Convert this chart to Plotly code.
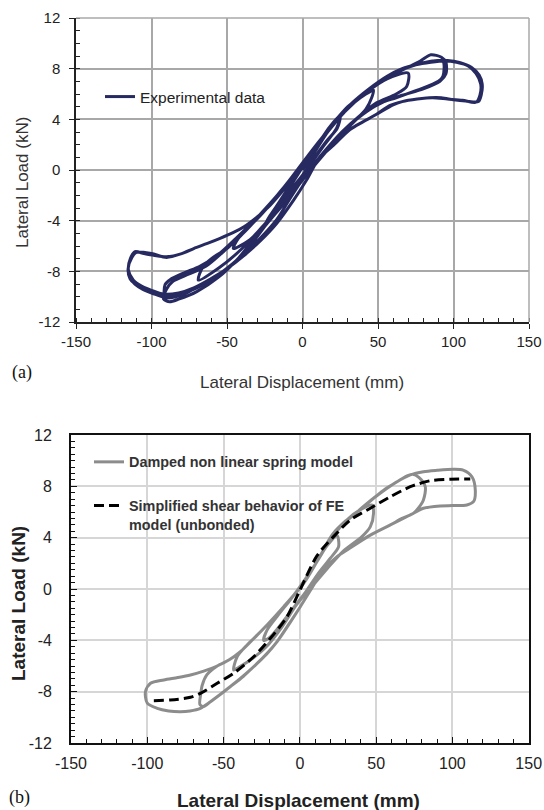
import plotly.graph_objects as go

# ---------------- data ----------------
x_ticks = [-150, -100, -50, 0, 50, 100, 150]
y_ticks = [-12, -8, -4, 0, 4, 8, 12]
x_tick_text = ["-150", "-100", "-50", "0", "50", "100", "150"]
y_tick_text = ["-12", "-8", "-4", "0", "4", "8", "12"]

# (a) experimental hysteresis (displacement mm, load kN), in loading order
exp_disp = [0, 8, 16, 22, 25,
            23, 16, 8, 0, -8, -16, -22, -24.5,
            -21.5, -14, -6, 2, 10, 18, 25,
            22.6, 14, 5, -5, -14, -21, -24,
            -21.5, -12, 0, 12, 24, 34, 42, 47,
            45.8, 42, 34, 24, 12, 0, -12, -24, -36, -45.8,
            -42.5, -36, -26, -14, 0, 14, 28, 42, 56, 70,
            69, 62, 49, 38, 26, 14, 2, -12, -26, -40, -55, -69,
            -65.7, -58, -50, -40, -28, -16, -4, 8, 20, 32, 45, 58, 70, 82, 93,
            93, 90, 76, 62, 52, 40, 28, 14, 2, -12, -24, -39, -55, -70, -82, -91,
            -91, -87.7, -78, -68, -56, -44, -32, -20, -8, 4, 16, 28, 42, 56, 68, 78, 85, 92, 95,
            95, 91, 80, 66, 54, 42, 30, 16, 2, -14, -28, -42, -56, -70, -82, -88, -92,
            -90, -86, -75, -64, -52, -40, -28, -16, -4, 8, 20, 32, 44, 56, 66, 76, 86, 96, 104, 112, 117, 119, 118.5, 116.5,
            108, 100, 92, 84, 76, 66, 58, 49, 40, 31.5, 20, 11.6, 2, -8, -17, -28, -39, -50, -61, -72, -82, -92, -100, -106, -112, -115.3, -114, -110.9,
            -105, -98, -90, -80, -72, -63, -54.6, -46, -39, -30, -21.5, -12, -3.8, 6, 14, 20.4, 30, 42.5, 54, 64.6, 75, 85, 94, 102, 110, 115, 118, 117.5, 115,
            106, 96, 86, 76, 66, 60, 49, 40, 31.5, 20, 11.6, 2.8, -6, -17, -28, -39.2, -50, -61.3, -69, -76.7, -84, -90, -98, -105.4, -111, -114.2, -115.5, -113, -110,
            -100, -90, -80, -72]
exp_load = [0, 1.4, 2.9, 3.8, 4.2,
            3.3, 2.3, 1.0, -0.4, -1.6, -3.0, -3.9, -4.2,
            -3.6, -2.3, -0.9, 0.6, 2.0, 3.4, 4.3,
            3.3, 1.9, 0.4, -1.3, -2.8, -3.8, -4.3,
            -3.66, -1.9, 0.3, 2.4, 4.2, 5.3, 6.0, 6.3,
            5.7, 4.8, 3.8, 2.6, 1.0, -0.6, -2.4, -4.2, -5.6, -6.2,
            -5.4, -4.6, -3.3, -1.6, 0.4, 2.6, 4.6, 6.1, 7.2, 7.65,
            6.6, 6.0, 5.3, 4.3, 3.0, 1.4, -0.4, -2.5, -4.4, -6.2, -7.7, -8.7,
            -7.6, -6.8, -6.2, -5.0, -3.6, -2.0, -0.2, 1.6, 3.5, 5.1, 6.4, 7.5, 8.1, 8.5, 8.6,
            7.4, 7.0, 6.3, 5.7, 5.3, 4.4, 3.2, 1.3, -0.5, -2.6, -4.3, -6.6, -8.2, -9.3, -9.8, -10.0,
            -9.05, -8.66, -8.1, -7.6, -6.7, -5.4, -4.0, -2.5, -0.7, 1.2, 3.0, 4.7, 6.2, 7.3, 8.0, 8.6, 9.1, 8.9, 8.5,
            7.6, 7.0, 6.4, 5.9, 5.4, 4.6, 3.4, 1.5, -0.5, -2.9, -4.8, -6.9, -8.5, -9.6, -10.2, -10.4, -10.2,
            -9.4, -8.8, -8.2, -7.6, -6.4, -5.0, -3.5, -1.9, -0.1, 1.7, 3.6, 5.2, 6.4, 7.4, 8.0, 8.35, 8.6, 8.65, 8.5, 8.1, 7.5, 6.8, 6.0, 5.4,
            5.45, 5.55, 5.7, 5.7, 5.6, 5.4, 5.1, 4.4, 3.8, 3.2, 1.9, 1.0, -0.4, -2.2, -3.9, -5.4, -6.7, -7.8, -8.6, -9.3, -9.7, -9.8, -9.5, -9.2, -8.7, -7.9, -7.0, -6.45,
            -6.6, -6.75, -6.85, -6.6, -6.2, -5.8, -5.4, -4.95, -4.5, -3.7, -2.8, -1.5, -0.3, 1.3, 2.7, 3.7, 5.0, 6.2, 7.2, 7.9, 8.3, 8.5, 8.6, 8.5, 8.2, 7.6, 6.8, 5.9, 5.35,
            5.5, 5.6, 5.7, 5.6, 5.4, 5.15, 4.4, 3.8, 3.2, 2.0, 1.07, -0.77, -2.4, -4.2, -5.6, -6.8, -7.8, -8.66, -9.2, -9.7, -10.0, -10.1, -9.8, -9.45, -9.0, -8.6, -7.8, -6.9, -6.5,
            -6.6, -6.9, -6.6, -6.2]

# (b) damped non linear spring model
spring_disp = [0, 10, 18, 24.4,
               25.4, 20, 12, 4, -5, -14, -20, -23.7,
               -21.5, -14, -6, 2, 10, 20, 30, 40, 47.3,
               48.3, 46.2, 40.7, 28, 18, 8, -2, -12, -22, -32, -40, -43.4,
               -41.1, -34.6, -28, -21.5, -10.6, 2.5, 12, 22, 30, 37.5, 48.3, 56, 63.7, 70, 74, 78,
               82.2, 81, 76.7, 74.5, 67, 59.3, 46.2, 38, 30.9, 24.4, 15.6, 8, 0.3, -7, -14.9, -22, -28, -37, -45.5, -52, -58.6, -63, -65.5,
               -65, -64, -61, -54.2, -46, -39, -28, -21.5, -10.6, 2.5, 12, 22, 37.5, 48.3, 63.7, 72.4, 81, 90, 100.7, 107, 112.8, 115, 113.8, 109.5,
               100, 92, 81, 74.5, 59.3, 46.2, 30.9, 24.4, 15.6, 8, 0.3, -14.9, -28, -45.5, -58.6, -65.2, -72, -78.3, -86, -93.5, -100, -101.2,
               -97.9, -89.2, -80, -71.7, -63, -54.2, -46, -39, -28, -21.5, -10.6, 0]
spring_load = [0.1, 1.9, 3.4, 4.15,
               3.3, 2.4, 1.2, -0.2, -1.6, -3.0, -3.8, -4.0,
               -3.2, -2.0, -0.8, 0.5, 1.9, 3.8, 5.3, 6.2, 6.55,
               5.9, 4.86, 4.08, 2.9, 1.6, 0.2, -1.2, -3.0, -4.5, -5.5, -6.1, -6.31,
               -5.28, -4.36, -3.59, -2.8, -1.38, 0.44, 2.3, 4.34, 5.3, 6.0, 7.07, 7.8, 8.36, 8.8, 8.95, 8.7,
               7.97, 6.94, 6.16, 5.9, 5.5, 4.99, 4.2, 3.6, 3.04, 2.52, 1.5, 0.1, -1.38, -2.7, -4.1, -5.1, -5.8, -6.8, -7.6, -8.2, -8.78, -9.15, -9.0,
               -8.2, -7.5, -6.7, -6.0, -5.5, -4.89, -3.59, -2.8, -1.38, 0.44, 2.3, 4.34, 6.0, 7.07, 8.36, 8.89, 9.14, 9.25, 9.33, 9.27, 8.75, 7.7, 6.8, 6.55,
               6.5, 6.47, 6.29, 5.9, 4.99, 4.2, 3.04, 2.52, 1.5, 0.1, -1.38, -4.1, -5.8, -7.6, -8.78, -9.3, -9.5, -9.56, -9.5, -9.3, -8.9, -8.0,
               -7.35, -7.09, -6.9, -6.7, -6.4, -6.0, -5.5, -4.89, -3.59, -2.8, -1.38, 0.1]

# (b) simplified shear behaviour of FE model (unbonded)
fe_disp = [-95.7, -85, -71.7, -65.2, -54.2, -43.4, -30.3, -19.3, -8.4, 0, 11.3, 22.1, 33.1, 46.2, 59.3, 72.4, 85.5, 98.6, 111.7]
fe_load = [-8.7, -8.65, -8.44, -8.13, -7.35, -6.57, -5.28, -3.84, -2.16, -0.1, 2.6, 4.08, 5.38, 6.29, 7.19, 7.97, 8.44, 8.55, 8.57]

# ---------------- figure ----------------
W, H = 544, 810
SANS = "Liberation Sans, Arial, sans-serif"
SERIF = "Liberation Serif, Times New Roman, serif"

def px(x):
    return x / W

def py(y):
    return 1 - y / H

fig = go.Figure()

fig.add_trace(go.Scatter(
    x=exp_disp, y=exp_load, mode="lines", name="Experimental data",
    line=dict(color="#262a60", width=3, shape="spline", smoothing=0.8),
    xaxis="x", yaxis="y", legend="legend"))

fig.add_trace(go.Scatter(
    x=spring_disp, y=spring_load, mode="lines", name="Damped non linear spring model",
    line=dict(color="#8c8c8c", width=3, shape="spline", smoothing=0.8),
    xaxis="x2", yaxis="y2", legend="legend2", legendgroup="g1"))

fig.add_trace(go.Scatter(
    x=fe_disp, y=fe_load, mode="lines",
    name="Simplified shear behavior of FE<br>model (unbonded)",
    line=dict(color="#000000", width=3, dash="10px,5px", shape="spline", smoothing=0.8),
    xaxis="x2", yaxis="y2", legend="legend2", legendgroup="g2"))

tickfont_a = dict(family=SANS, size=15, color="#222222")
tickfont_b = dict(family=SANS, size=16, color="#222222")

fig.update_layout(
    width=W, height=H,
    margin=dict(l=0, r=0, t=0, b=0),
    paper_bgcolor="white", plot_bgcolor="white",
    showlegend=True,
    xaxis=dict(domain=[px(76), px(529)], range=[-150, 150], anchor="y",
               tickvals=x_ticks, ticktext=x_tick_text,
               showgrid=True, gridcolor="#a8a8a8", gridwidth=1.5,
               zeroline=False, showline=True, linecolor="#222222", linewidth=1.5,
               ticks="outside", ticklen=5, tickcolor="#222222", tickwidth=1.2,
               minor=dict(dtick=10, ticks="inside", ticklen=4, tickcolor="#222222", showgrid=False),
               tickfont=tickfont_a, automargin=False),
    yaxis=dict(domain=[py(322), py(18)], range=[-12, 12], anchor="x",
               tickvals=y_ticks, ticktext=y_tick_text,
               showgrid=True, gridcolor="#a8a8a8", gridwidth=1.5,
               zeroline=False, showline=True, linecolor="#222222", linewidth=1.5,
               ticks="outside", ticklen=5, tickcolor="#222222", tickwidth=1.2,
               minor=dict(dtick=1, ticks="inside", ticklen=4, tickcolor="#222222", showgrid=False),
               tickfont=tickfont_a, ticklabelstandoff=6, automargin=False),
    xaxis2=dict(domain=[px(71), px(528.7)], range=[-150, 150], anchor="y2",
                tickvals=x_ticks, ticktext=x_tick_text,
                showgrid=True, gridcolor="#d6d6d6", gridwidth=1.5,
                zeroline=False, showline=True, linecolor="#111111", linewidth=1.8, mirror=True,
                ticks="inside", ticklen=6, tickcolor="#111111", tickwidth=1.2,
                minor=dict(dtick=10, ticks="inside", ticklen=4, tickcolor="#111111", showgrid=False),
                tickfont=tickfont_b, ticklabelstandoff=5, automargin=False),
    yaxis2=dict(domain=[py(743), py(435)], range=[-12, 12], anchor="x2",
                tickvals=y_ticks, ticktext=y_tick_text,
                showgrid=True, gridcolor="#d6d6d6", gridwidth=1.5,
                zeroline=False, showline=True, linecolor="#111111", linewidth=1.8, mirror=True,
                ticks="inside", ticklen=6, tickcolor="#111111", tickwidth=1.2,
                minor=dict(dtick=0.5, ticks="inside", ticklen=4, tickcolor="#111111", showgrid=False),
                tickfont=tickfont_b, ticklabelstandoff=14, automargin=False),
    legend=dict(x=px(100), y=py(80), xanchor="left", yanchor="top",
                bgcolor="rgba(0,0,0,0)", borderwidth=0,
                font=dict(family=SANS, size=15.5, color="#222222")),
    legend2=dict(x=px(89), y=py(446), xanchor="left", yanchor="top",
                 bgcolor="rgba(0,0,0,0)", borderwidth=0, valign="top",
                 tracegroupgap=22,
                 font=dict(family=SANS, size=14.4, color="#333333", weight="bold")),
)

# grey frame (top/right) for panel (a)
fig.add_shape(type="line", xref="x domain", yref="y domain", x0=0, x1=1, y0=1, y1=1,
              line=dict(color="#a8a8a8", width=1.5))
fig.add_shape(type="line", xref="x domain", yref="y domain", x0=1, x1=1, y0=0, y1=1,
              line=dict(color="#a8a8a8", width=1.5))

annos = [
    dict(text="Lateral Load (kN)", x=px(23), y=py(183), textangle=-90,
         font=dict(family=SANS, size=17, color="#333333")),
    dict(text="Lateral Displacement (mm)", x=px(302), y=py(382),
         font=dict(family=SANS, size=17, color="#333333")),
    dict(text="(a)", x=px(22), y=py(372),
         font=dict(family=SERIF, size=18, color="#111111")),
    dict(text="<b>Lateral Load (kN)</b>", x=px(18), y=py(604), textangle=-90,
         font=dict(family=SANS, size=19, color="#222222")),
    dict(text="<b>Lateral Displacement (mm)</b>", x=px(298), y=py(800),
         font=dict(family=SANS, size=19, color="#222222")),
    dict(text="(b)", x=px(19), y=py(797),
         font=dict(family=SERIF, size=18, color="#111111")),
]
for a in annos:
    fig.add_annotation(xref="paper", yref="paper", showarrow=False,
                       xanchor="center", yanchor="middle", **a)

fig.write_html("out.html",
               config={"displayModeBar": False},
               post_script="document.body.style.margin='0';document.body.style.overflow='hidden';")
